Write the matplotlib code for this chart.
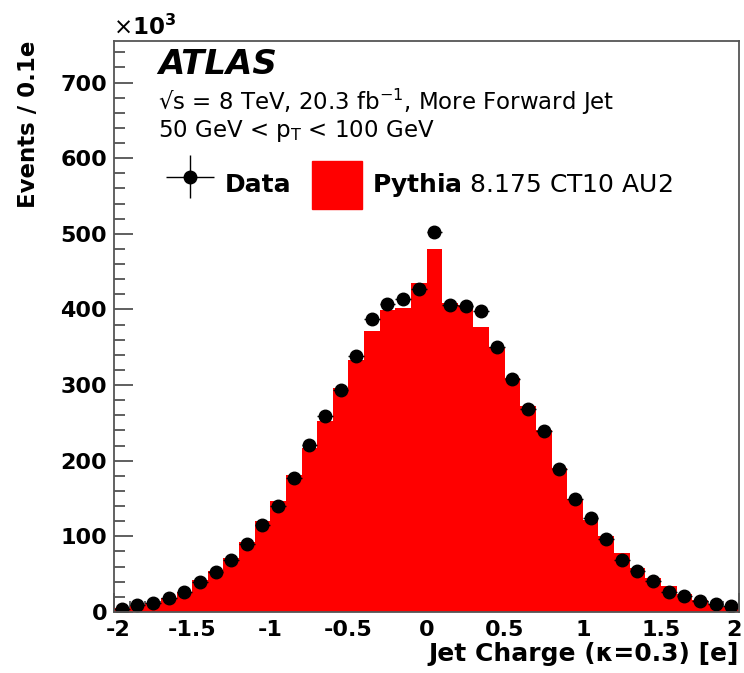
import numpy as np
import matplotlib
matplotlib.use("Agg")
import matplotlib.pyplot as plt
from matplotlib.patches import Patch
from matplotlib.legend_handler import HandlerErrorbar
from matplotlib.ticker import MultipleLocator
from matplotlib.transforms import ScaledTranslation

plt.rcParams['font.family'] = ['DejaVu Sans']
plt.rcParams['mathtext.fontset'] = 'dejavusans'

# ----------------------------
# Values (x 10^3 events per 0.1e bin)
# ----------------------------
bin_edges = np.linspace(-2, 2, 41)

data_events = [4.2, 8.6, 11.7, 18.3, 25.8, 40.0, 52.7, 69.0, 90.0, 115.5,
               140.6, 177.7, 220.5, 259.0, 293.8, 338.0, 387.0, 407.0, 414.0, 426.7,
               503.0, 405.5, 404.6, 398.4, 350.0, 308.0, 267.8, 239.5, 189.0, 149.0,
               124.7, 96.0, 68.2, 53.6, 40.8, 26.2, 20.5, 15.2, 10.8, 8.2]

pythia_events = [5, 8, 12, 18, 26, 42, 54, 71, 92, 120,
                 147, 181, 217, 253, 296, 333, 371, 399, 402, 435,
                 480, 409, 406, 377, 350, 310, 273, 240, 191, 150,
                 121, 100, 78, 58, 45, 34, 24, 16, 11, 7]

centers = 0.5 * (bin_edges[:-1] + bin_edges[1:])
half_w = 0.5 * np.diff(bin_edges)

# ----------------------------
# Plot
# ----------------------------
fig = plt.figure(figsize=(7.44, 6.73), dpi=100)
ax = fig.add_axes([114 / 744, 61 / 673, 625 / 744, 571 / 673])

ax.stairs(pythia_events, bin_edges, fill=True, color="#ff0000", zorder=1)
# stat. errors are below a pixel, so the vertical bars have zero length
eb = ax.errorbar(centers, data_events, xerr=half_w, yerr=0, fmt="o", color="black",
                 ms=9, elinewidth=1.0, capsize=0, zorder=3)

ax.set_xlim(-2, 2)
ax.set_ylim(0, 755)
ax.set_axisbelow(True)

ax.yaxis.set_major_locator(MultipleLocator(100))
ax.yaxis.set_minor_locator(MultipleLocator(20))
ax.xaxis.set_major_locator(MultipleLocator(0.5))
ax.xaxis.set_minor_locator(MultipleLocator(0.1))
ax.xaxis.set_major_formatter(plt.FuncFormatter(lambda v, p: f"{v:g}"))
ax.tick_params(axis="both", which="major", direction="in", length=14, width=1.2,
               color="#444444", labelsize=16)
ax.tick_params(axis="both", which="minor", direction="in", length=8, width=1.2,
               color="#444444")
ax.tick_params(axis="y", pad=5)
ax.tick_params(axis="x", pad=6)
for sp in ax.spines.values():
    sp.set_color("#555555")
    sp.set_linewidth(1.3)
    sp.set_zorder(4)

fig.canvas.draw()
for lab in ax.get_xticklabels() + ax.get_yticklabels():
    lab.set_fontweight("bold")
# nudge the outer x labels inward, as in the original
for tick in ax.xaxis.get_major_ticks():
    if np.isclose(tick.get_loc(), -2):
        tick.label1.set_transform(tick.label1.get_transform()
                                  + ScaledTranslation(3 / 72, 0, fig.dpi_scale_trans))
    elif np.isclose(tick.get_loc(), 2):
        tick.label1.set_transform(tick.label1.get_transform()
                                  + ScaledTranslation(-4 / 72, 0, fig.dpi_scale_trans))

ax.set_xlabel("Jet Charge (κ=0.3) [e]", fontsize=18, fontweight="bold", ha="right")
ax.xaxis.set_label_coords(1.0, -0.052)
ax.set_ylabel("Events / 0.1e", fontsize=16.5, fontweight="bold", ha="right")
ax.yaxis.set_label_coords(-0.118, 1.0)

fig.text(113 / 744, 1 - 27 / 673, "×$\\mathbf{10^{3}}$", fontsize=16.5,
         va="center", ha="left")

ax.text(0.07, 0.958, "ATLAS", transform=ax.transAxes, fontsize=24.5,
        fontweight="bold", fontstyle="italic", va="center")
ax.text(0.07, 0.894, "√s = 8 TeV, 20.3 fb$^{-1}$, More Forward Jet",
        transform=ax.transAxes, fontsize=16.5, va="center")
ax.text(0.07, 0.843, "50 GeV < p$_{\\mathrm{T}}$ < 100 GeV",
        transform=ax.transAxes, fontsize=16.5, va="center")

leg = ax.legend(handles=[eb, Patch(color="#ff0000")],
                labels=["Data", "$\\mathbf{Pythia}$ 8.175 CT10 AU2"],
                loc="center left", bbox_to_anchor=(0.0816, 0.748), ncol=2,
                frameon=False, fontsize=18, handlelength=2.0, handleheight=2.6,
                handletextpad=0.4, columnspacing=0.8, borderpad=0, borderaxespad=0,
                handler_map={type(eb): HandlerErrorbar(xerr_size=0.96, yerr_size=0.86)})
leg.get_texts()[0].set_fontweight("bold")

fig.savefig("out.png", dpi=100)
